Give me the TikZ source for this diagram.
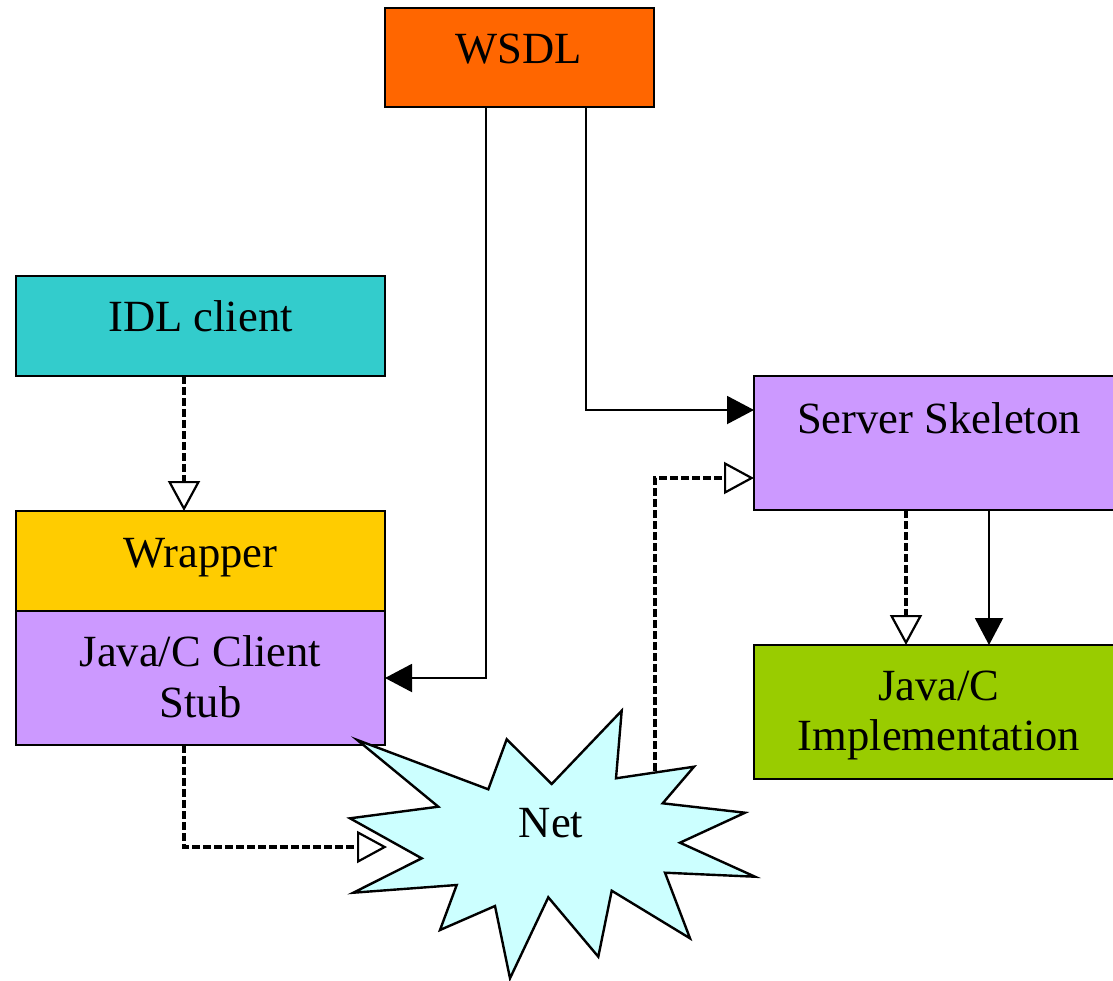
\documentclass[tikz,border=0pt]{standalone}
\usepackage{fontspec}
\setmainfont{Liberation Serif}
\usetikzlibrary{arrows.meta,calc}
\definecolor{cwsdl}{HTML}{FF6600}
\definecolor{cidl}{HTML}{33CCCC}
\definecolor{cwrap}{HTML}{FFCC00}
\definecolor{cviolet}{HTML}{CC99FF}
\definecolor{cimpl}{HTML}{99CC00}
\definecolor{cnet}{HTML}{CCFFFF}
\tikzset{
  box/.style={draw=black, line width=1pt, rectangle, inner sep=0pt, outer sep=0pt, anchor=north west},
  lbl/.style={anchor=base, inner sep=0pt, font=\fontsize{22.3}{26}\selectfont},
  solidarrow/.style={draw=black, line width=1pt, -{Triangle[length=13.5pt,width=14pt]}},
  openarrow/.style={draw=black, line width=2pt, dash pattern=on 4pt off 1.5pt,
    -{Triangle[length=15pt,width=16pt,fill=white,line width=1.1pt]}},
}
\begin{document}
\begin{tikzpicture}[x=0.5pt,y=-0.5pt]
\useasboundingbox (0,0) rectangle (1113,980);
% boxes
\node[box, fill=cwsdl, minimum width=134.5pt, minimum height=49.5pt] (wsdl) at (385,8) {};
\node[box, fill=cidl, minimum width=184.5pt, minimum height=50pt] (idl) at (16,276) {};
\node[box, fill=cwrap, minimum width=184.5pt, minimum height=50pt] (wrap) at (16,511) {};
\node[box, fill=cviolet, minimum width=184.5pt, minimum height=67pt] (stub) at (16,611) {};
\node[box, fill=cviolet, minimum width=185pt, minimum height=67pt] (skel) at (754,376) {};
\node[box, fill=cimpl, minimum width=185pt, minimum height=67pt] (impl) at (754,645) {};
% labels
\node[lbl] (wsdlT) at (519,63) {WSDL};
\node[lbl] (idlT) at (200.5,331) {IDL client};
\node[lbl] (wrapT) at (200.5,567) {Wrapper};
\node[lbl] (stubT1) at (200.5,666) {Java/C Client};
\node[lbl] (stubT2) at (200.5,717) {Stub};
\node[lbl] (skelT) at (939,433) {Server Skeleton};
\node[lbl] (implT1) at (939,700) {Java/C};
\node[lbl] (implT2) at (939,750) {Implementation};
% net star
\path[draw=black, line width=1.2pt, fill=cnet, line join=miter]
  (357.3,740) -- (488.3,789.3) -- (506.7,739.3) -- (551.7,784) -- (621.7,710.7)
  -- (616,778.3) -- (694,766.7) -- (662.7,803.3) -- (745,812.7) -- (680,842.7)
  -- (755,876.7) -- (665,872.7) -- (690,938.3) -- (611.7,890.7) -- (598.3,956.7)
  -- (548.3,897.3) -- (510,978.3) -- (495,906) -- (440,930) -- (456.7,885)
  -- (353.3,892.7) -- (421.7,858.3) -- (350,818.3) -- (438.3,806.7) -- cycle;
\node[lbl] (net) at (551,837) {Net};
\coordinate (netL) at (387,847);
\coordinate (netT) at (655,771);
% connectors
\draw[solidarrow] ($(wsdl.south west)+(101,0)$) |- (stub.east);
\draw[solidarrow] ($(wsdl.south west)+(201,0)$) |- ($(skel.north west)+(0,34)$);
\draw[openarrow] ($(idl.south west)+(168,0)$) -- ($(wrap.north west)+(168,0)$);
\draw[openarrow] ($(stub.south west)+(168,0)$) |- (netL);
\draw[openarrow] (netT) |- ($(skel.north west)+(0,102)$);
\draw[openarrow] ($(skel.south west)+(152,0)$) -- ($(impl.north west)+(152,0)$);
\draw[solidarrow] ($(skel.south west)+(235,0)$) -- ($(impl.north west)+(235,0)$);
\end{tikzpicture}
\end{document}
